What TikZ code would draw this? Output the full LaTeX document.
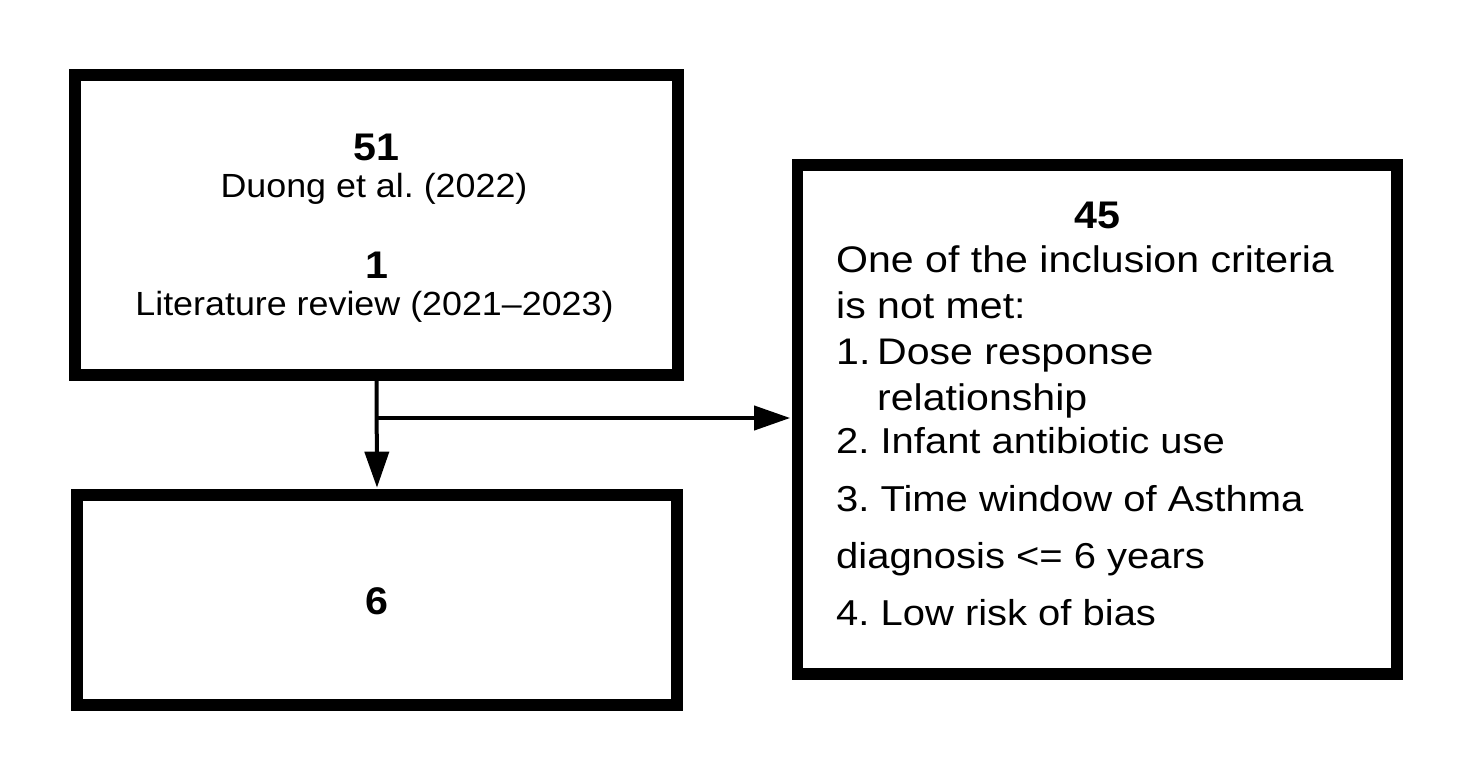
\documentclass[tikz,border=0pt]{standalone}
\usepackage{fontspec}
\setmainfont{Liberation Sans}[FakeStretch=1.07]
\newfontfamily\critfont{Liberation Sans}[FakeStretch=1.11]
\usetikzlibrary{arrows.meta}
\begin{document}
\frenchspacing
\begin{tikzpicture}[x=1pt,y=-1pt,
  box/.style={draw=black, line width=11.7pt, rectangle, inner sep=0pt},
  conn/.style={draw=black, line width=4pt, -{Triangle[length=36pt,width=24pt]}, shorten >=1.5pt},
  numtxt/.style={anchor=base, inner sep=0pt, font=\bfseries\fontsize{38.5pt}{46pt}\selectfont},
  srctxt/.style={anchor=base, inner sep=0pt, font=\fontsize{33.5pt}{40pt}\selectfont},
  crit/.style={anchor=base west, inner sep=0pt, font=\critfont\fontsize{37pt}{44pt}\selectfont},
  critb/.style={anchor=base west, inner sep=0pt, font=\critfont\fontsize{36pt}{43pt}\selectfont}]
\useasboundingbox (0,0) rectangle (1472,780);
\fill[white] (0,0) rectangle (1472,780);

% boxes
\node[box, minimum width=603pt, minimum height=300pt] (b1) at (376.5,225) {};
\node[box, minimum width=600pt, minimum height=210pt] (b2) at (377,600) {};
\node[box, minimum width=599.5pt, minimum height=509pt] (b3) at (1097.25,419.5) {};

% box 1 text
\node[numtxt] (n51) at (376.5,160) {51};
\node[srctxt] (duong) at (374,197) {Duong et al. (2022)};
\node[numtxt] (n1) at (376.5,278) {1};
\node[srctxt] (lit) at (374.5,315) {Literature review (2021–2023)};

% box 2 text
\node[numtxt] (n6) at (376.7,614) {6};

% box 3 text
\node[numtxt] (n45) at (1097,228.5) {45};
\node[crit] (c1) at (836,272) {One of the inclusion criteria};
\node[crit] (c2) at (836,318) {is not met:};
\node[crit] (c3a) at (836,364) {1.};
\node[crit] (c3b) at (877,364) {Dose response};
\node[crit] (c4) at (877,410) {relationship};
\node[critb] (c5) at (836,453) {2. Infant antibiotic use};
\node[critb] (c6) at (836,511) {3. Time window of Asthma};
\node[critb] (c7) at (836,568) {diagnosis <= 6 years};
\node[critb] (c8) at (836,625) {4. Low risk of bias};

% connectors
\coordinate (j) at (376.5,418);
\draw[conn] (b1.south) -- (b2.north);
\draw[conn] (j) -- (b3.west |- j);
\end{tikzpicture}
\end{document}
